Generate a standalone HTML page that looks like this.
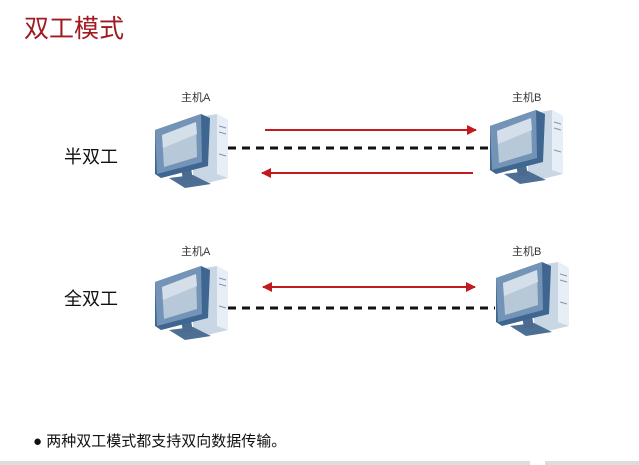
<!DOCTYPE html>
<html><head><meta charset="utf-8"><style>
body{margin:0;background:#fff;width:639px;height:465px;overflow:hidden;position:relative;font-family:"Liberation Sans","Noto Sans CJK SC",sans-serif}
.t{position:absolute;white-space:nowrap}
</style></head><body>
<div class="t" style="left:24px;top:9px;font-size:25px;color:#a11a20">双工模式</div>
<div class="t" style="left:64px;top:143px;font-size:18px;color:#111">半双工</div>
<div class="t" style="left:64px;top:285px;font-size:18px;color:#111">全双工</div>
<div class="t" style="left:181px;top:89px;font-size:11px;color:#333">主机A</div>
<div class="t" style="left:512px;top:89px;font-size:11px;color:#333">主机B</div>
<div class="t" style="left:181px;top:243px;font-size:11px;color:#333">主机A</div>
<div class="t" style="left:512px;top:243px;font-size:11px;color:#333">主机B</div>
<div class="t" style="left:33px;top:430px;font-size:15px;color:#111">●&nbsp;两种双工模式都支持双向数据传输。</div>
<div style="position:absolute;left:0;top:461px;width:530px;height:4px;background:#ddd"></div>
<div style="position:absolute;left:545px;top:461px;width:94px;height:4px;background:#ddd"></div>
<svg width="639" height="465" style="position:absolute;left:0;top:0">
<defs>
<g id="pc">
<polygon points="40,10 64,6 75,12 75,70 50,76 40,70" fill="#c9d6e4"/>
<polygon points="64,6 75,12 75,70 64,66" fill="#e8eef5"/>
<line x1="66" y1="18" x2="73" y2="20" stroke="#7f96ae"/><line x1="66" y1="24" x2="73" y2="26" stroke="#7f96ae"/><line x1="66" y1="46" x2="73" y2="48" stroke="#7f96ae"/>
<polygon points="16,70 40,67 58,76 32,80" fill="#4d6f94"/>
<polygon points="28,60 38,60 40,72 30,72" fill="#4a6b8f"/>
<polygon points="2,22 48,6 57,10 55,58 8,70 2,66" fill="#3e6690"/>
<polygon points="2,22 48,6 49,54 4,66" fill="#7394b7"/>
<polygon points="9,27 43,14 44,49 11,59" fill="#b7c8d9"/>
<polygon points="9,27 43,14 44,26 10,40" fill="#d4dfea"/>
</g>
<marker id="ar" viewBox="0 0 10 10" refX="9" refY="5" markerWidth="5" markerHeight="5" orient="auto-start-reverse"><path d="M0,0 L10,5 L0,10 z" fill="#c41a1f"/></marker>
</defs>
<use href="#pc" x="153" y="108"/>
<use href="#pc" x="488" y="104"/>
<use href="#pc" x="153" y="260"/>
<use href="#pc" x="494" y="256"/>
<line x1="265" y1="130" x2="476" y2="130" stroke="#c41a1f" stroke-width="2" marker-end="url(#ar)"/>
<line x1="473" y1="173" x2="262" y2="173" stroke="#c41a1f" stroke-width="2" marker-end="url(#ar)"/>
<line x1="263" y1="287" x2="475" y2="287" stroke="#c41a1f" stroke-width="2" marker-end="url(#ar)" marker-start="url(#ar)"/>
<line x1="228" y1="148" x2="490" y2="148" stroke="#111" stroke-width="3" stroke-dasharray="8,6"/>
<line x1="228" y1="308" x2="495" y2="308" stroke="#111" stroke-width="3" stroke-dasharray="8,6"/>
</svg>
</body></html>
